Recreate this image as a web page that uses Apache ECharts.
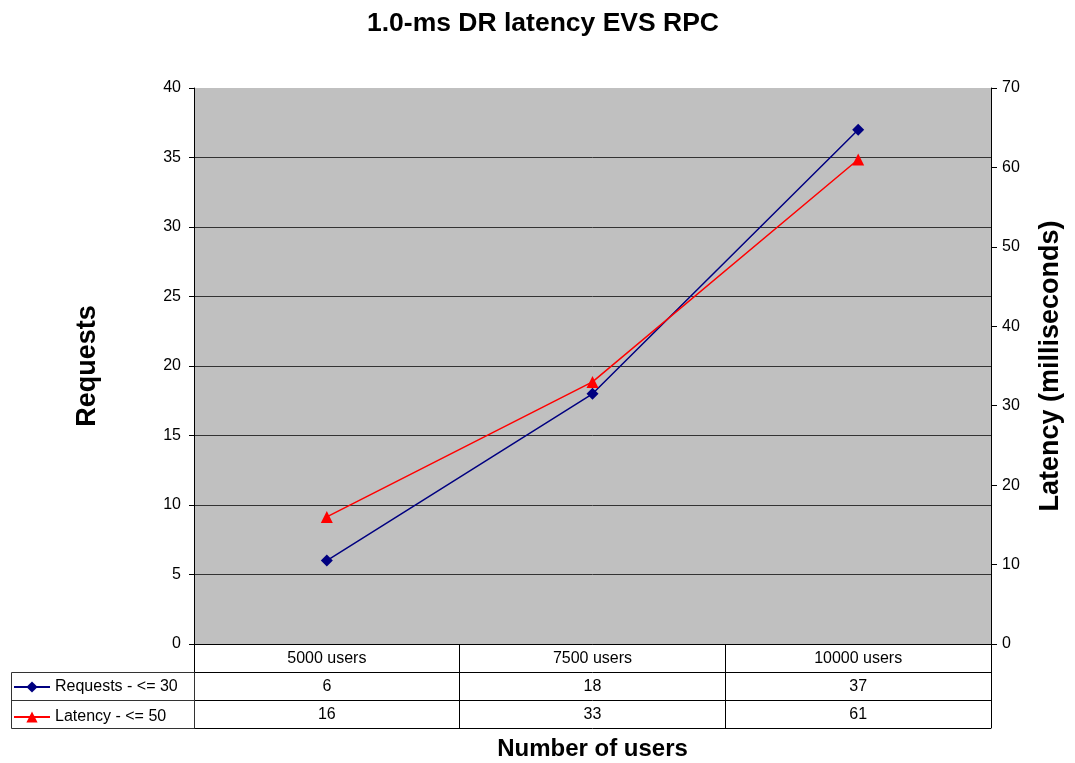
<!DOCTYPE html>
<html lang="en">
<head>
    <meta charset="UTF-8">
    <title>1.0-ms DR latency EVS RPC</title>
    <script src="https://cdn.jsdelivr.net/npm/echarts@6/dist/echarts.min.js"></script>
    <style>
        html, body { margin: 0; padding: 0; background: #fff; }
    </style>
</head>
<body>
    <div id="main" style="width: 1075px; height: 763px;"></div>
    <script>
        var users = ['5000 users', '7500 users', '10000 users'];
        var requests = [6, 18, 37];
        var latency = [16, 33, 61];

        var font = 'Liberation Sans, Arial, sans-serif';
        var myChart = echarts.init(document.getElementById('main'));

        // one x axis per table row, the labels are the row's values
        function tableAxis(offset, values, showTicks) {
            return {
                type: 'category',
                data: users,
                position: 'bottom',
                offset: offset,
                boundaryGap: true,
                axisLine: {show: true, onZero: false, lineStyle: {color: '#000', width: 1}},
                axisTick: {show: showTicks, length: 28, interval: 0, lineStyle: {color: '#000'}},
                axisLabel: {
                    show: values != null,
                    interval: 0,
                    margin: 7,
                    fontFamily: font,
                    fontSize: 16,
                    color: '#000',
                    formatter: function (v, i) {
                        return values ? String(values[i]) : '';
                    }
                },
                splitLine: {show: false}
            };
        }

        var xAxes = [
            tableAxis(0, users, true),
            tableAxis(28, requests, true),
            tableAxis(56, latency, true),
            tableAxis(84, null, false)
        ];
        xAxes[3].name = 'Number of users';
        xAxes[3].nameLocation = 'middle';
        xAxes[3].nameGap = 9;
        xAxes[3].nameTextStyle = {fontFamily: font, fontSize: 24, fontWeight: 'bold', color: '#000'};

        var option = {
            backgroundColor: '#fff',
            animation: false,
            title: {
                text: '1.0-ms DR latency EVS RPC',
                left: 538,
                textAlign: 'center',
                top: 5,
                textStyle: {fontFamily: font, fontSize: 26.5, fontWeight: 'bold', color: '#000'}
            },
            grid: {
                left: 194,
                right: 84,
                top: 88,
                bottom: 119,
                outerBoundsMode: 'none',
                containLabel: false,
                show: true,
                backgroundColor: '#C0C0C0',
                borderWidth: 0
            },
            legend: {
                orient: 'vertical',
                left: 13,
                top: 679,
                padding: 0,
                itemWidth: 36,
                itemHeight: 14,
                itemGap: 14,
                textStyle: {fontFamily: font, fontSize: 16, color: '#000'},
                data: ['Requests - <= 30', 'Latency - <= 50']
            },
            xAxis: xAxes,
            yAxis: [
                {
                    type: 'value',
                    min: 0,
                    max: 40,
                    interval: 5,
                    position: 'left',
                    name: 'Requests',
                    nameLocation: 'middle',
                    nameRotate: 90,
                    nameGap: 93,
                    nameTextStyle: {fontFamily: font, fontSize: 27, fontWeight: 'bold', color: '#000'},
                    axisLine: {show: true, lineStyle: {color: '#000'}},
                    axisTick: {show: true, length: 5, lineStyle: {color: '#000'}},
                    axisLabel: {fontFamily: font, fontSize: 16, color: '#000', margin: 13},
                    splitLine: {show: true, showMaxLine: false, lineStyle: {color: '#333', width: 1}}
                },
                {
                    type: 'value',
                    min: 0,
                    max: 70,
                    interval: 10,
                    position: 'right',
                    name: 'Latency (milliseconds)',
                    nameLocation: 'middle',
                    nameRotate: 90,
                    nameGap: 46,
                    nameTextStyle: {fontFamily: font, fontSize: 27, fontWeight: 'bold', color: '#000'},
                    axisLine: {show: true, lineStyle: {color: '#000'}},
                    axisTick: {show: true, length: 6, lineStyle: {color: '#000'}},
                    axisLabel: {fontFamily: font, fontSize: 16, color: '#000', margin: 11},
                    splitLine: {show: false}
                }
            ],
            graphic: [
                // legend column of the data table
                {
                    type: 'rect',
                    shape: {x: 11.5, y: 672.5, width: 183, height: 56},
                    style: {fill: 'none', stroke: '#333', lineWidth: 1},
                    z: 10
                },
                {
                    type: 'line',
                    shape: {x1: 11.5, y1: 700.5, x2: 194.5, y2: 700.5},
                    style: {stroke: '#333', lineWidth: 1},
                    z: 10
                }
            ],
            series: [
                {
                    name: 'Requests - <= 30',
                    type: 'line',
                    xAxisIndex: 0,
                    yAxisIndex: 0,
                    data: requests,
                    symbol: 'diamond',
                    symbolSize: 12,
                    color: '#000080',
                    lineStyle: {color: '#000080', width: 1.5},
                    itemStyle: {color: '#000080'}
                },
                {
                    name: 'Latency - <= 50',
                    type: 'line',
                    xAxisIndex: 0,
                    yAxisIndex: 1,
                    data: latency,
                    symbol: 'triangle',
                    symbolSize: 12,
                    color: '#FF0000',
                    lineStyle: {color: '#FF0000', width: 1.5},
                    itemStyle: {color: '#FF0000'}
                }
            ]
        };
        myChart.setOption(option);
    </script>
</body>
</html>
